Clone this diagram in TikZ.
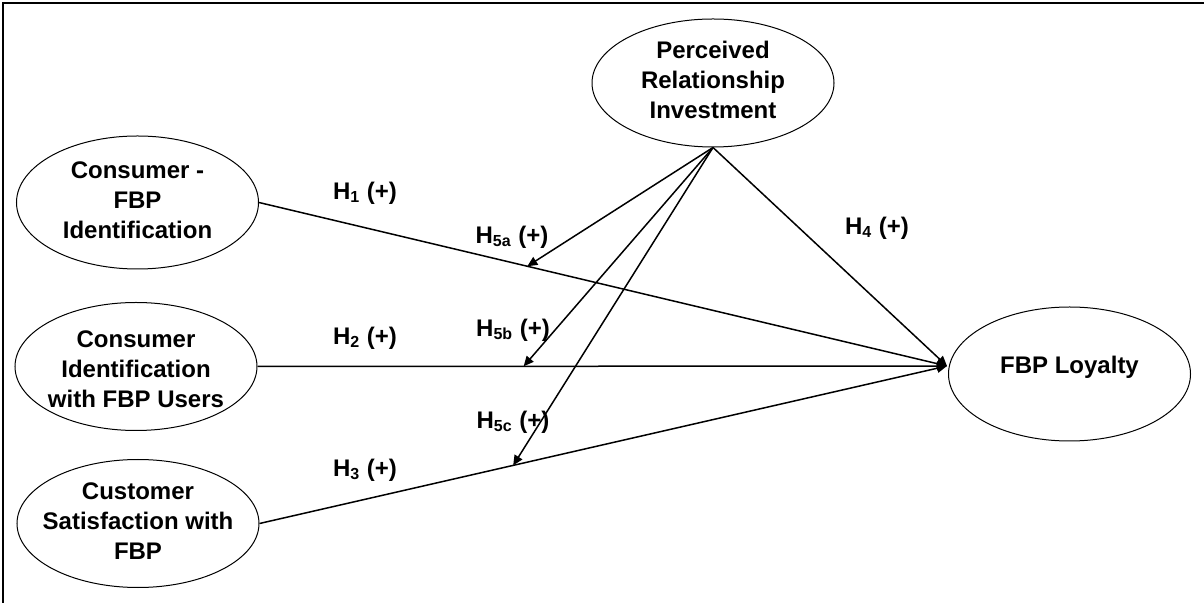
\documentclass[tikz,border=0pt]{standalone}
\usepackage{fontspec}
\setmainfont{Liberation Sans}
\usetikzlibrary{shapes.geometric,arrows.meta,calc}
\newcommand{\ovtext}[2][-0.25em]{\makebox[0pt]{\raisebox{#1}[0pt][0pt]{\begin{tabular}{@{}c@{}}#2\end{tabular}}}}

\begin{document}
\begin{tikzpicture}[x=0.5pt, y=-0.5pt,
    construct/.style={ellipse, draw, line width=0.5pt, inner sep=0pt, minimum width=121pt, minimum height=64pt, font=\bfseries\fontsize{12}{15}\selectfont},
    hyp/.style={inner sep=0pt, font=\bfseries\fontsize{12}{15}\selectfont},
    arrow/.style={-{Triangle[length=5pt, width=4.5pt]}, line width=0.75pt}
]
    \useasboundingbox (0,0) rectangle (1204,603);
    \draw[line width=1pt] (3,603) -- (3,3) -- (1204,3);

    % Moderator
    \node[construct] (pri) at (713,83) {\ovtext{Perceived\\Relationship\\Investment}};

    % Antecedents
    \node[construct, minimum height=66.5pt] (cfi) at (137.5,202.5) {\ovtext{Consumer -\\FBP\\Identification}};
    \node[construct] (ciu) at (136,366.5) {\ovtext[-0.45em]{Consumer\\Identification\\with FBP Users}};
    \node[construct] (csf) at (138,523.5) {\ovtext{Customer\\Satisfaction with\\FBP}};

    % Outcome
    \node[construct, minimum height=67pt] (loy) at (1069.5,374) {\ovtext[0pt]{FBP Loyalty}};
    \coordinate (tgt) at (947,366);

    % Main effects
    \draw[arrow] (cfi.east) -- (tgt);
    \draw[arrow] (ciu.east) -- (tgt);
    \draw[arrow] (csf.east) -- (tgt);
    \draw[arrow] (pri.south) -- (tgt);

    % Moderating effects
    \coordinate (m5a) at ($(cfi.east)!0.39!(tgt)$);
    \coordinate (m5b) at ($(ciu.east)!0.386!(tgt)$);
    \coordinate (m5c) at ($(csf.east)!0.369!(tgt)$);
    \draw[arrow] (pri.south) -- (m5a);
    \draw[arrow] (pri.south) -- (m5b);
    \draw[arrow] (pri.south) -- (m5c);

    % Hypotheses
    \node[hyp] (h1) at (365,193) {H\textsubscript{1} (+)};
    \node[hyp] (h2) at (365,338) {H\textsubscript{2} (+)};
    \node[hyp] (h3) at (365,470) {H\textsubscript{3} (+)};
    \node[hyp] (h4) at (877,228) {H\textsubscript{4} (+)};
    \node[hyp] (h5a) at (512,237) {H\textsubscript{5a} (+)};
    \node[hyp] (h5b) at (513,330) {H\textsubscript{5b} (+)};
    \node[hyp] (h5c) at (513,422) {H\textsubscript{5c} (+)};
\end{tikzpicture}
\end{document}
